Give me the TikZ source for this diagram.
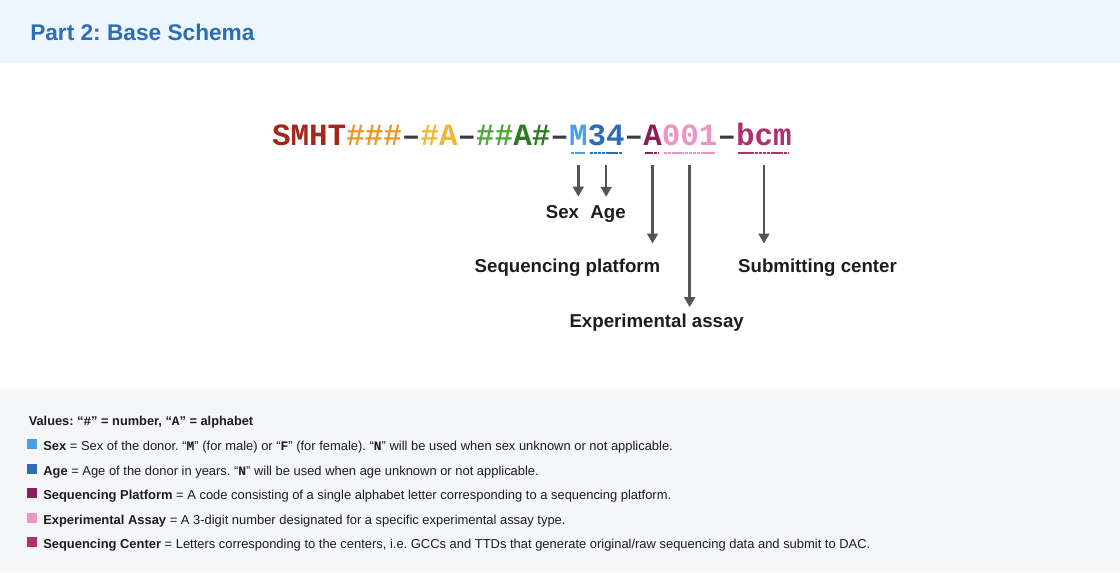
\documentclass[tikz,border=0pt]{standalone}
\usepackage{fontspec}
\setmainfont{Liberation Sans}
\newfontfamily\codefont{Liberation Mono}
\usepackage{tikz}
\usetikzlibrary{arrows.meta,positioning,calc}
\frenchspacing
\definecolor{headBg}{HTML}{EEF6FD}
\definecolor{footBg}{HTML}{F5F6F8}
\definecolor{titleBlue}{HTML}{2C6DB3}
\definecolor{inkDark}{HTML}{1C1C1E}
\definecolor{arrowGray}{HTML}{555555}
\definecolor{dashGray}{HTML}{3A3A3A}
\definecolor{cDonorRed}{HTML}{A3281B}
\definecolor{cOrange}{HTML}{E9972B}
\definecolor{cYellow}{HTML}{F2B630}
\definecolor{cGreen}{HTML}{4FA83A}
\definecolor{cDarkGreen}{HTML}{2E7A22}
\definecolor{cSex}{HTML}{4A9EEA}
\definecolor{cAge}{HTML}{2E6CB5}
\definecolor{cPlatform}{HTML}{8A1F5B}
\definecolor{cAssay}{HTML}{EB95C6}
\definecolor{cCenter}{HTML}{B0306E}
\tikzset{
  seg/.style={font=\codefont\bfseries\fontsize{23.2}{25}\selectfont, inner sep=0pt, outer sep=0pt, anchor=base west},
  uline/.style={line width=1.6pt, dash pattern=on 2.6pt off 0.5pt},
  pointer/.style={arrowGray, line width=1.9pt, -{Triangle[width=8pt,length=7.5pt]}},
  lbl/.style={font=\bfseries\fontsize{14}{16}\selectfont, text=inkDark, inner sep=0pt, anchor=base},
  legendsq/.style={minimum size=7.5pt, inner sep=0pt, anchor=south west},
  legendtxt/.style={font=\fontsize{9.7}{11}\selectfont, text=inkDark, inner sep=0pt, anchor=base west}
}
\newcommand{\cd}[1]{{\codefont\bfseries #1}}
\begin{document}
\begin{tikzpicture}[x=0.75pt,y=-0.75pt]
\useasboundingbox (0,0) rectangle (1120,572);

% bands
\fill[headBg] (0,0) rectangle (1120,63);
\fill[footBg] (0,388) rectangle (1120,572);
\node[anchor=base west, inner sep=0pt, font=\bfseries\fontsize{17}{20}\selectfont, text=titleBlue] (title) at (30,40) {Part 2: Base Schema};

% the identifier
\node[seg, text=cDonorRed] (smht) at (272,145) {SMHT};
\node[seg, text=cOrange] (hashA) at (smht.base east) {\#\#\#};
\node[seg, text=dashGray] (dashA) at (hashA.base east) {–};
\node[seg, text=cYellow] (tissue) at (dashA.base east) {\#A};
\node[seg, text=dashGray] (dashB) at (tissue.base east) {–};
\node[seg, text=cGreen] (hashB) at (dashB.base east) {\#\#};
\node[seg, text=cDarkGreen] (aliq) at (hashB.base east) {A\#};
\node[seg, text=dashGray] (dashC) at (aliq.base east) {–};
\node[seg, text=cSex] (sexseg) at (dashC.base east) {M};
\node[seg, text=cAge] (ageseg) at (sexseg.base east) {34};
\node[seg, text=dashGray] (dashD) at (ageseg.base east) {–};
\node[seg, text=cPlatform] (platseg) at (dashD.base east) {A};
\node[seg, text=cAssay] (assayseg) at (platseg.base east) {001};
\node[seg, text=dashGray] (dashE) at (assayseg.base east) {–};
\node[seg, text=cCenter] (ctrseg) at (dashE.base east) {bcm};

% underlines
\foreach \s/\c in {sexseg/cSex, ageseg/cAge, platseg/cPlatform, assayseg/cAssay, ctrseg/cCenter} {
  \draw[uline, \c] ($(\s.base west)+(2,8)$) -- ($(\s.base east)+(-3,8)$);
}

% labels
\node[lbl] (sex) at (562.5,218) {Sex};
\node[lbl] (age) at (608,218) {Age};
\node[lbl] (platform) at (567.5,272) {Sequencing platform};
\node[lbl] (center) at (817.5,272) {Submitting center};
\node[lbl] (assay) at (656.7,327) {Experimental assay};

% arrows
\draw[pointer, shorten >=6pt] ([yshift=-15pt]sexseg.base) -- (sexseg.base |- sex.north);
\draw[pointer, shorten >=6pt] ([yshift=-15pt]ageseg.base) -- (ageseg.base |- age.north);
\draw[pointer, shorten >=11pt] ([yshift=-15pt]platseg.base) -- (platseg.base |- platform.north);
\draw[pointer, shorten >=4.5pt] ([yshift=-15pt]assayseg.base) -- (assayseg.base |- assay.north);
\draw[pointer, shorten >=11pt] ([yshift=-15pt]ctrseg.base) -- (ctrseg.base |- center.north);

% legend
\node[legendtxt, font=\bfseries\fontsize{9.6}{11}\selectfont] (values) at (28.5,425) {Values: “\cd{\#}” = number, “\cd{A}” = alphabet};
\foreach \y/\col/\key/\desc [count=\i] in {
  450/cSex/Sex/{Sex of the donor. “\cd{M}” (for male) or “\cd{F}” (for female). “\cd{N}” will be used when sex unknown or not applicable.},
  475/cAge/Age/{Age of the donor in years. “\cd{N}” will be used when age unknown or not applicable.},
  499.5/cPlatform/Sequencing Platform/{A code consisting of a single alphabet letter corresponding to a sequencing platform.},
  524/cAssay/Experimental Assay/{A 3-digit number designated for a specific experimental assay type.},
  548.5/cCenter/Sequencing Center/{Letters corresponding to the centers, i.e. GCCs and TTDs that generate original/raw sequencing data and submit to DAC.}} {
  \node[legendsq, fill=\col] (sq\i) at (27,\y-1) {};
  \node[legendtxt] (item\i) at (43,\y) {\textbf{\key} = \desc};
}
\end{tikzpicture}
\end{document}
